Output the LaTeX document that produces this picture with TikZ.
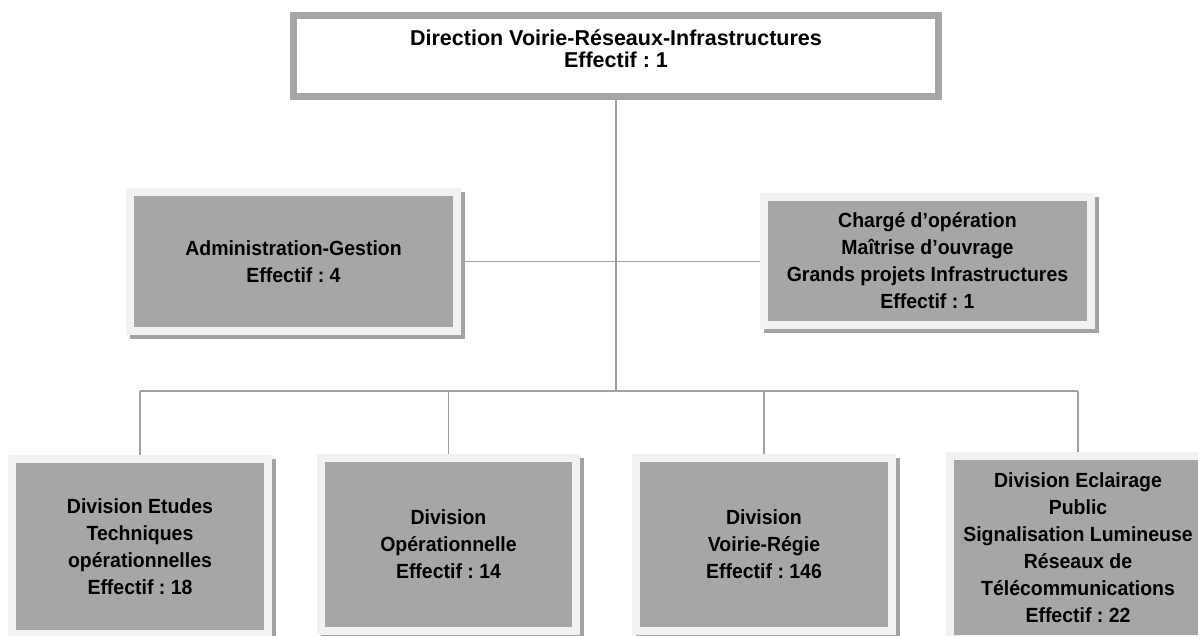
\documentclass[tikz,border=0pt]{standalone}
\usepackage{fontspec}
\setmainfont{Liberation Sans}
\newfontfamily\unitfont{Liberation Sans}[FakeStretch=0.95]
\usetikzlibrary{backgrounds}
\definecolor{boxgray}{HTML}{A6A6A6}
\definecolor{framegray}{HTML}{F2F2F2}
\definecolor{shadowgray}{HTML}{A3A3A3}
\definecolor{linkgray}{HTML}{A0A0A0}
\frenchspacing
\begin{document}
\begin{tikzpicture}[x=1pt,y=-1pt,
  unit/.style={draw=framegray, fill=boxgray, line width=8pt, outer sep=4pt,
    inner sep=0pt, align=center, font=\unitfont\bfseries\fontsize{20.5}{27}\selectfont},
  headbox/.style={draw=boxgray, fill=white, line width=7pt, outer sep=3.5pt, inner sep=0pt},
  headtext/.style={align=center, inner sep=0pt, font=\bfseries\fontsize{21.5}{22}\selectfont},
  link/.style={draw=linkgray, line width=1.5pt}]
\useasboundingbox (0,0) rectangle (1198,636);

% head of the department
\node[headbox, minimum width=645pt, minimum height=81pt] (top) at (616,56) {};
\node[headtext] (toptext) at (616,48.5) {Direction Voirie-Réseaux-Infrastructures\\Effectif : 1};

% staff units
\node[unit, minimum width=327pt, minimum height=139pt] (admin) at (293.5,261.5)
  {Administration-Gestion\\Effectif : 4};
\node[unit, minimum width=327pt, minimum height=128pt] (charge) at (927.5,261)
  {Chargé d’opération\\Maîtrise d’ouvrage\\Grands projets Infrastructures\\Effectif : 1};

% divisions
\node[unit, minimum width=256pt, minimum height=175pt] (b1) at (140,546.5)
  {Division Etudes\\Techniques\\opérationnelles\\Effectif : 18};
\node[unit, minimum width=255pt, minimum height=173pt] (b2) at (448.5,544.5)
  {Division\\Opérationnelle\\Effectif : 14};
\node[unit, minimum width=256pt, minimum height=173pt] (b3) at (764,544.5)
  {Division\\Voirie-Régie\\Effectif : 146};
\node[unit, minimum width=256pt, minimum height=183pt] (b4) at (1078,547.5)
  {Division Eclairage\\Public\\Signalisation Lumineuse\\Réseaux de\\Télécommunications\\Effectif : 22};

% drop shadows
\begin{scope}[on background layer]
  \foreach \n in {admin,charge,b1,b2,b3,b4}
    \fill[shadowgray] ([shift={(4,4)}]\n.north west) rectangle ([shift={(4,4)}]\n.south east);
\end{scope}

% connectors
\coordinate (hub) at (616,391);
\begin{scope}[on background layer]
  \draw[link] (top.south) -- (hub);
  \draw[link] (admin.east) -- (admin.east -| charge.west);
  \draw[link] (b1.north |- hub) -- (b4.north |- hub);
  \foreach \n in {b1,b2,b3,b4}
    \draw[link] (\n.north |- hub) -- (\n.north);
\end{scope}
\end{tikzpicture}
\end{document}
